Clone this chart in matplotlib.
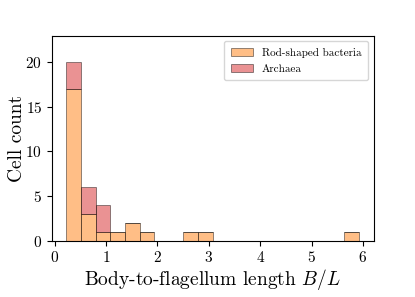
import matplotlib
matplotlib.use('Agg')

import numpy as np
import matplotlib.pyplot as plt

plt.rcParams['font.family'] = 'serif'
plt.rcParams['font.serif'] = ['cmr10']
plt.rcParams['mathtext.fontset'] = 'cm'
plt.rcParams['axes.formatter.use_mathtext'] = True
plt.rcParams['axes.unicode_minus'] = False

# body-to-flagellum length ratios B/L
bacteria = [0.233, 0.25, 0.28, 0.30, 0.31, 0.33, 0.35, 0.36, 0.38, 0.40,
            0.41, 0.42, 0.44, 0.45, 0.47, 0.49, 0.50,
            0.55, 0.62, 0.75,
            0.95, 1.20, 1.45, 1.60, 1.80,
            2.65, 2.90, 5.92]
archaea = [0.30, 0.42, 0.48,
           0.60, 0.68, 0.78,
           0.85, 0.92, 1.02]
labels = ['Rod-shaped bacteria', 'Archaea']
colors = ['tab:orange', 'tab:red']

fig, ax = plt.subplots(figsize=(4.15, 2.97), dpi=100)
fig.subplots_adjust(left=0.125, right=0.9, bottom=0.19, top=0.88)

ax.hist([bacteria, archaea], bins=20, stacked=True, color=colors,
        alpha=0.5, edgecolor='k', linewidth=0.6, label=labels)

ax.set_ylim(0, 23)
ax.set_xticks([0, 1, 2, 3, 4, 5, 6])
ax.set_yticks([0, 5, 10, 15, 20])
ax.tick_params(labelsize=11)
ax.set_xlabel(r'Body-to-flagellum length $B/L$', fontsize=14, labelpad=1)
ax.set_ylabel('Cell count', fontsize=14, labelpad=-0.5)
ax.legend(loc='upper right', fontsize=8, borderpad=0.6, labelspacing=0.55)

plt.savefig('out.png')
